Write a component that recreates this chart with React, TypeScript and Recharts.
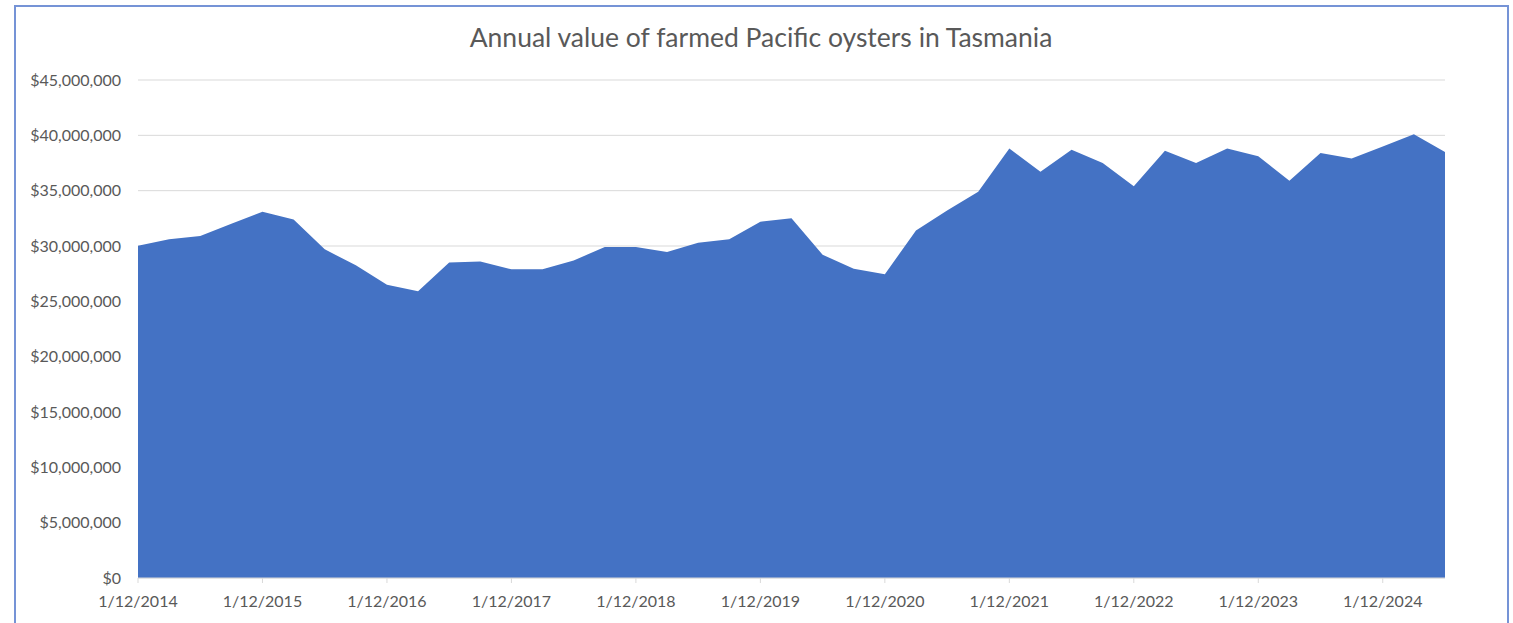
import { AreaChart, Area, XAxis, YAxis, CartesianGrid } from "recharts";

const quarters = [
  "1/12/2014", "1/03/2015", "1/06/2015", "1/09/2015",
  "1/12/2015", "1/03/2016", "1/06/2016", "1/09/2016",
  "1/12/2016", "1/03/2017", "1/06/2017", "1/09/2017",
  "1/12/2017", "1/03/2018", "1/06/2018", "1/09/2018",
  "1/12/2018", "1/03/2019", "1/06/2019", "1/09/2019",
  "1/12/2019", "1/03/2020", "1/06/2020", "1/09/2020",
  "1/12/2020", "1/03/2021", "1/06/2021", "1/09/2021",
  "1/12/2021", "1/03/2022", "1/06/2022", "1/09/2022",
  "1/12/2022", "1/03/2023", "1/06/2023", "1/09/2023",
  "1/12/2023", "1/03/2024", "1/06/2024", "1/09/2024",
  "1/12/2024", "1/03/2025", "1/06/2025"
];

// annual value (rolling), AUD
const values = [
  30030000, 30600000, 30900000, 32000000,
  33100000, 32400000, 29700000, 28250000,
  26500000, 25900000, 28500000, 28600000,
  27900000, 27900000, 28700000, 29900000,
  29900000, 29450000, 30300000, 30600000,
  32200000, 32500000, 29200000, 27950000,
  27450000, 31400000, 33200000, 34900000,
  38800000, 36700000, 38700000, 37500000,
  35400000, 38600000, 37500000, 38800000,
  38100000, 35900000, 38400000, 37900000,
  39000000, 40100000, 38500000
];

const yTicks = [0, 5000000, 10000000, 15000000, 20000000, 25000000, 30000000, 35000000, 40000000, 45000000];

const title = "Annual value of farmed Pacific oysters in Tasmania";

const data = quarters.map((q, i) => ({ date: q, value: values[i] }));

const font = "Lato, 'Open Sans', sans-serif";

function money(v: number) {
  return "$" + v.toLocaleString("en-US");
}

export default function App() {
  return (
    <div
      style={{
        position: "absolute",
        left: 0,
        top: 0,
        width: 1513,
        height: 623,
        overflow: "hidden",
        background: "#fff",
        fontFamily: font
      }}
    >
      <div
        style={{
          position: "absolute",
          left: 14,
          top: 5,
          width: 1491,
          height: 700,
          border: "2px solid #7593d6"
        }}
      />
      <div
        style={{
          position: "absolute",
          left: 0,
          top: 22,
          width: 1522,
          textAlign: "center",
          fontSize: 26.5,
          lineHeight: "31px",
          color: "#595959"
        }}
      >
        {title}
      </div>
      <div style={{ position: "absolute", left: 0, top: 0 }}>
        <AreaChart
          width={1513}
          height={623}
          data={data}
          margin={{ top: 80, right: 68, bottom: 15, left: 0 }}
        >
          <CartesianGrid vertical={false} stroke="#d9d9d9" />
          <XAxis
            dataKey="date"
            interval={3}
            stroke="#d9d9d9"
            tickSize={5}
            tickMargin={13}
            tick={{ fontSize: 16, fill: "#595959", fontFamily: font }}
          />
          <YAxis
            width={138}
            domain={[0, 45000000]}
            ticks={yTicks}
            tickFormatter={money}
            axisLine={false}
            tickLine={false}
            tickMargin={11}
            tick={{ fontSize: 16, fill: "#595959", fontFamily: font }}
          />
          <Area
            type="linear"
            dataKey="value"
            fill="#4472c4"
            fillOpacity={1}
            stroke="none"
            isAnimationActive={false}
          />
        </AreaChart>
      </div>
    </div>
  );
}
